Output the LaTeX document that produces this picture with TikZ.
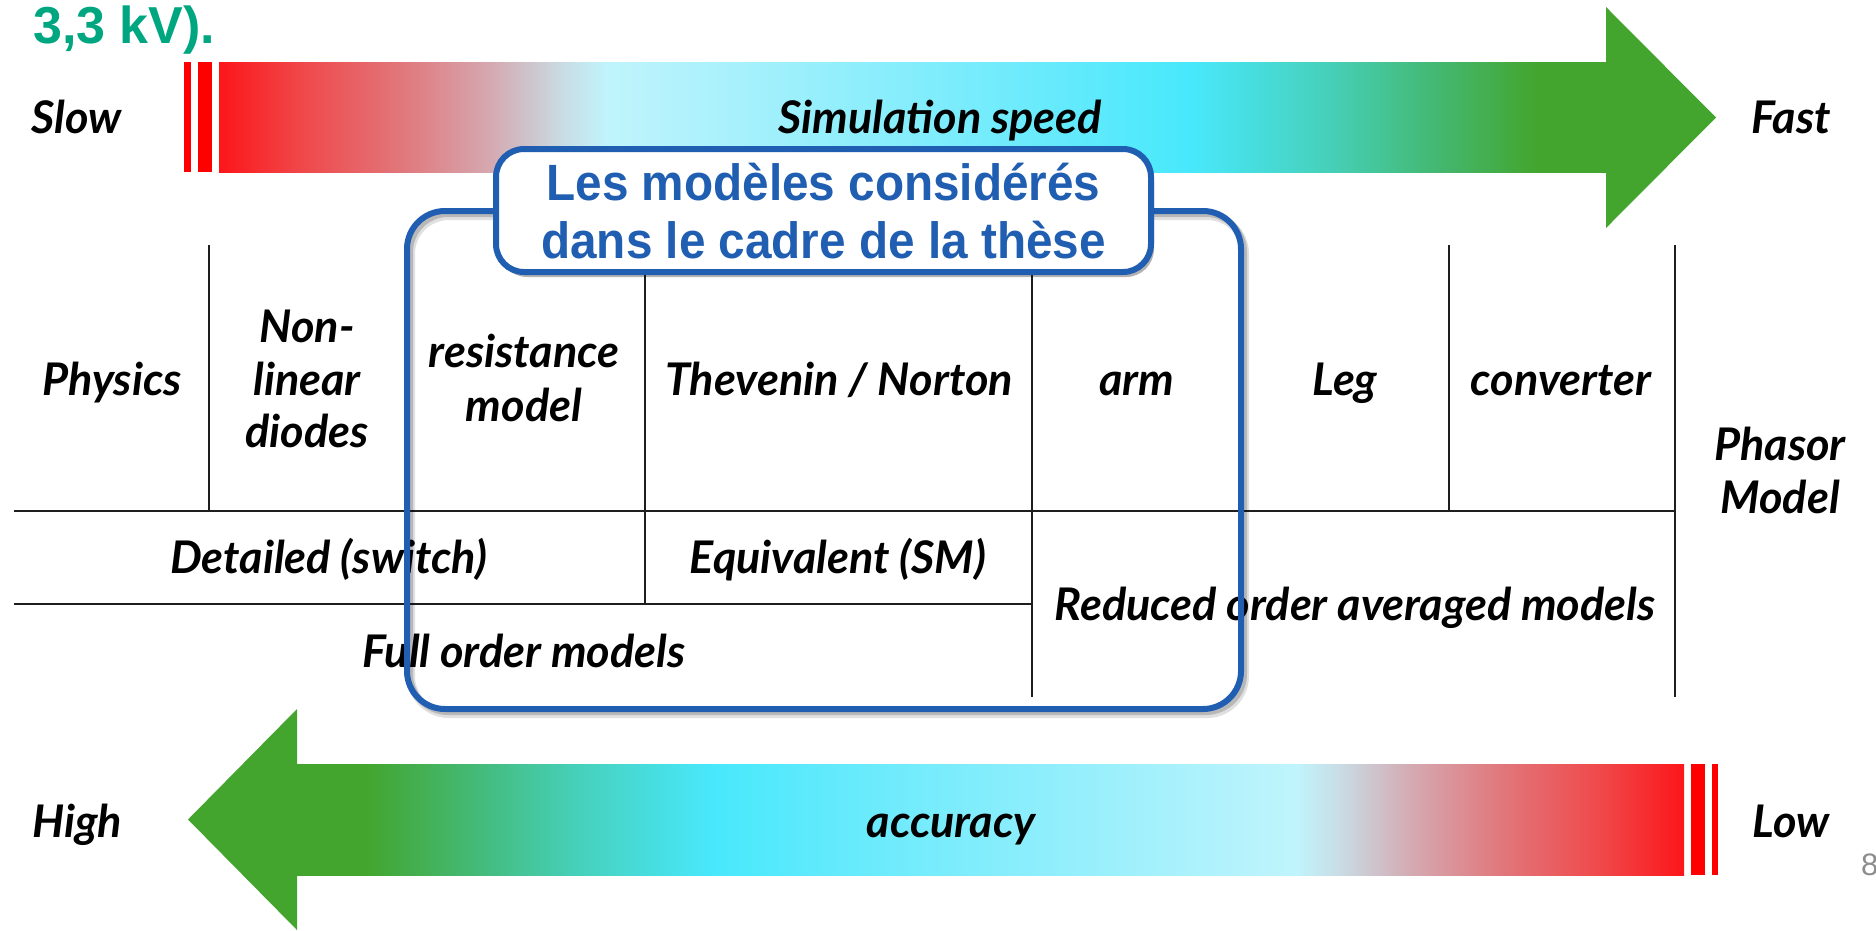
\documentclass[tikz,border=0pt]{standalone}
\usepackage{fontspec}
\setmainfont{Liberation Sans}
\newfontfamily\lato{Lato}
\newfontfamily\headfont{Liberation Sans}[FakeStretch=0.935]
\usetikzlibrary{shadows}

\definecolor{arrred}{RGB}{252,22,26}
\definecolor{gradA}{RGB}{240,72,74}
\definecolor{gradB}{RGB}{225,118,122}
\definecolor{pinkgrey}{RGB}{213,168,176}
\definecolor{paleblue}{RGB}{200,222,230}
\definecolor{lightcyan}{RGB}{192,244,252}
\definecolor{midcyan}{RGB}{132,237,252}
\definecolor{cyanmain}{RGB}{72,232,252}
\definecolor{tealmix}{RGB}{70,208,185}
\definecolor{greenmix}{RGB}{68,186,120}
\definecolor{arrgreen}{RGB}{67,165,45}
\definecolor{boxblue}{RGB}{32,94,178}
\definecolor{titlegreen}{RGB}{0,166,128}
\definecolor{tableink}{RGB}{30,30,30}

% red -> pale -> cyan -> green, mapped onto 25bp..75bp
\pgfdeclarehorizontalshading{speedgrad}{100bp}{%
  color(0bp)=(arrred); color(25bp)=(arrred); color(28bp)=(gradA);
  color(31.5bp)=(gradB); color(34.75bp)=(pinkgrey); color(37.5bp)=(paleblue);
  color(39bp)=(lightcyan); color(50bp)=(midcyan); color(60bp)=(cyanmain);
  color(65bp)=(tealmix); color(68.5bp)=(greenmix); color(72.5bp)=(arrgreen);
  color(75bp)=(arrgreen); color(100bp)=(arrgreen)}

\tikzset{
  cell/.style={font=\lato\bfseries\itshape\fontsize{45}{52}\selectfont, inner sep=0pt, anchor=base},
  endlabel/.style={font=\lato\bfseries\itshape\fontsize{45}{52}\selectfont, inner sep=0pt, anchor=base},
  barlabel/.style={font=\lato\bfseries\itshape\fontsize{45}{52}\selectfont, inner sep=0pt, anchor=base},
  headline/.style={font=\headfont\bfseries\fontsize{51}{60}\selectfont, text=boxblue, inner sep=0pt, anchor=base},
  tableline/.style={draw=tableink, line width=2pt},
  strip/.style={fill=red},
}

\begin{document}
\begin{tikzpicture}[x=1pt,y=-1pt]
\useasboundingbox (0,0) rectangle (1876,930);

% heading fragment
\node[anchor=base west, inner sep=0pt, text=titlegreen,
      font=\bfseries\fontsize{52}{60}\selectfont] (title) at (33,43) {3,3 kV).};

% ---------- upper arrow: simulation speed ----------
\fill[strip] (184,62) rectangle (191,172);
\fill[strip] (198,62) rectangle (212,172);
\shade[shading=speedgrad] (219,62) rectangle (1607,172);
\fill[arrgreen] (1606,62) -- (1606,7) -- (1716,117.5) -- (1606,228) -- (1606,172) -- cycle;
\node[endlabel] (slow) at (77,133) {Slow};
\node[endlabel] (fast) at (1791,133) {Fast};
\node[barlabel] (speed) at (940,133) {Simulation speed};

% ---------- lower arrow: accuracy ----------
\shade[shading=speedgrad, shading angle=180] (296,764) rectangle (1684,875);
\fill[arrgreen] (297,764) -- (297,709) -- (188,819.5) -- (297,930) -- (297,875) -- cycle;
\fill[strip] (1691,764) rectangle (1705,875);
\fill[strip] (1712,764) rectangle (1718,875);
\node[endlabel] (high) at (77,837) {High};
\node[endlabel] (low) at (1791,837) {Low};
\node[barlabel] (acc) at (951,837) {accuracy};

% ---------- table ----------
\draw[tableline] (209,245) -- (209,511);
\draw[tableline] (645,245) -- (645,604);
\draw[tableline] (1032,245) -- (1032,697);
\draw[tableline] (1449,245) -- (1449,511);
\draw[tableline] (1675,245) -- (1675,697);
\draw[tableline] (14,511) -- (1675,511);
\draw[tableline] (14,604) -- (1032,604);

\node[cell] (physics) at (112,395) {Physics};
\node[cell] (nonA) at (307,342) {Non-};
\node[cell] (nonB) at (307,395) {linear};
\node[cell] (nonC) at (307,447) {diodes};
\node[cell] (resA) at (524,367) {resistance};
\node[cell] (resB) at (524,421) {model};
\node[cell] (thev) at (839,395) {Thevenin / Norton};
\node[cell] (arm) at (1137,395) {arm};
\node[cell] (leg) at (1345,395) {Leg};
\node[cell] (conv) at (1561,395) {converter};
\node[cell] (phasA) at (1780,460) {Phasor};
\node[cell] (phasB) at (1780,513) {Model};
\node[cell] (detail) at (329,573) {Detailed (switch)};
\node[cell] (equiv) at (838,573) {Equivalent (SM)};
\node[cell] (full) at (524,667) {Full order models};
\node[cell] (reduced) at (1355,620) {Reduced order averaged models};

% ---------- highlighted frame ----------
\draw[black, opacity=0.12, line width=8pt, rounded corners=38pt] (411,216) rectangle (1245,714);
\draw[black, opacity=0.18, line width=6pt, rounded corners=38pt] (410,214) rectangle (1244,712);
\node[draw=boxblue, line width=6pt, rounded corners=38pt, minimum width=834pt,
      minimum height=498pt, inner sep=0pt] (frame) at (824,460) {};

\node[draw=boxblue, fill=white, line width=6pt, rounded corners=28pt, minimum width=655pt,
      minimum height=123pt, inner sep=0pt,
      drop shadow={shadow xshift=3pt, shadow yshift=-5pt, opacity=0.3, fill=black}]
      (tag) at (823.5,210.5) {};
\node[headline] (tagA) at (823.5,200) {Les modèles considérés};
\node[headline] (tagB) at (823.5,258) {dans le cadre de la thèse};

% page number
\node[anchor=base west, inner sep=0pt, text=black!45,
      font=\fontsize{31}{36}\selectfont] (page) at (1861,875) {8};
\end{tikzpicture}
\end{document}
